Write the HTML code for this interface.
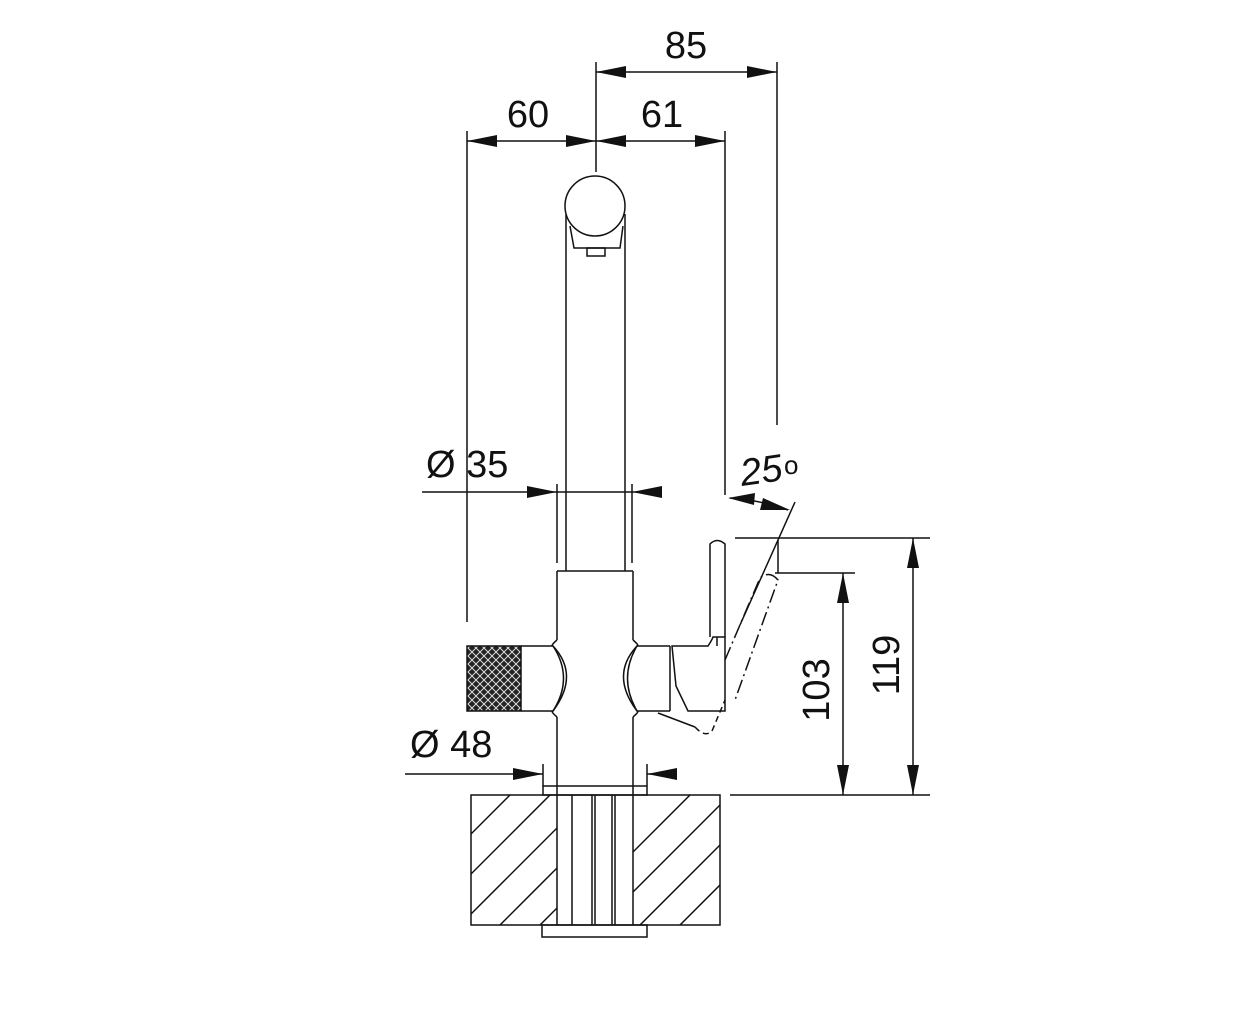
<!DOCTYPE html>
<html><head><meta charset="utf-8"><style>html,body{margin:0;padding:0;background:#fff}svg{display:block}</style></head>
<body>
<svg width="1252" height="1024" viewBox="0 0 1252 1024" xmlns="http://www.w3.org/2000/svg" font-family="Liberation Sans, sans-serif">
<defs>
<pattern id="knurl" width="8" height="8" patternUnits="userSpaceOnUse">
<rect width="8" height="8" fill="#222"/>
<path d="M0 4 L4 0 L8 4 L4 8 Z" fill="none" stroke="#ddd" stroke-width="1"/>
</pattern>
<clipPath id="cl"><rect x="471" y="795" width="86" height="130"/></clipPath>
<clipPath id="cr"><rect x="633" y="795" width="87" height="130"/></clipPath>
</defs>
<g stroke="#111" stroke-width="1.5" fill="none">
<line x1="596" y1="62" x2="596" y2="172"/>
<line x1="777" y1="62" x2="777" y2="425"/>
<line x1="467" y1="131" x2="467" y2="622"/>
<line x1="725" y1="131" x2="725" y2="495"/>
<line x1="596" y1="72" x2="777" y2="72"/>
<line x1="467" y1="141" x2="725" y2="141"/>
<circle cx="595" cy="206" r="30"/>
<path d="M566 214 L566 571 M625 214 L625 571"/>
<path d="M570 226 L574 248 L620 248 L623 226"/>
<rect x="587" y="248" width="18" height="8"/>
<line x1="557" y1="484" x2="557" y2="563"/>
<line x1="632" y1="484" x2="632" y2="563"/>
<line x1="422" y1="492" x2="662" y2="492"/>
<path d="M557 571 L633 571 M557 571 L557 640 M633 571 L633 640 M557 717 L557 795 M633 717 L633 795"/>
<rect x="467" y="646" width="54" height="65" fill="url(#knurl)" stroke="#111"/>
<path d="M521 646 L553 646 Q580 675 553 711 L521 711"/>
<path d="M553 646 Q574 678 553 711" />
<path d="M557 640 Q550 646 553 646 M557 717 Q550 711 553 711"/>
<path d="M670 646 L637 646 Q610 675 637 711 L670 711"/>
<path d="M637 646 Q618 678 637 711"/>
<path d="M633 640 Q640 646 637 646 M633 717 Q640 711 637 711"/>
<line x1="670" y1="646" x2="670" y2="711"/>
<path d="M672 646 L708 646 Q712 640 713 637 L725 637 L725 711 L688 711 L676 686 Z"/>
<path d="M710 637 L710 544 Q717 537 725 544 L725 637"/>
<line x1="717" y1="637" x2="717" y2="646"/>
<path d="M658 713 L695 727" />
<path d="M695 727 Q705 738 712 731 L725 700" stroke-dasharray="6 4"/>
<path d="M725 660 L760 578 Q770 570 778 580 L735 700" stroke-dasharray="14 4 2 4"/>
<line x1="795" y1="502" x2="740" y2="625"/>
<path d="M730 498 Q760 500 788 510"/>
<line x1="543" y1="764" x2="543" y2="786"/>
<line x1="647" y1="764" x2="647" y2="786"/>
<line x1="405" y1="774" x2="543" y2="774"/>
<line x1="647" y1="774" x2="675" y2="774"/>
<rect x="543" y="786" width="104" height="9"/>
<rect x="471" y="795" width="249" height="130"/>
<rect x="542" y="925" width="105" height="12"/>
<path d="M557 795 L557 925 M572 795 L572 925 M592 795 L592 925 M595 795 L595 925 M612 795 L612 925 M615 795 L615 925 M633 795 L633 925"/>
<g clip-path="url(#cl)">
<path d="M420 925 L550 795 M380 925 L510 795 M460 925 L590 795 M500 925 L630 795 M540 925 L670 795 M420 885 L510 795"/>
</g>
<g clip-path="url(#cr)">
<path d="M600 925 L730 795 M640 925 L770 795 M680 925 L810 795 M560 925 L690 795 M600 885 L690 795"/>
</g>
<line x1="735" y1="538" x2="930" y2="538"/>
<line x1="775" y1="573" x2="855" y2="573"/>
<line x1="730" y1="795" x2="930" y2="795"/>
<line x1="843" y1="573" x2="843" y2="795"/>
<line x1="913" y1="538" x2="913" y2="795"/>
<line x1="778" y1="540" x2="778" y2="573"/>
</g>
<g fill="#111">
<polygon points="596,72 626,66 626,78"/><polygon points="777,72 747,66 747,78"/>
<polygon points="596,141 566,135 566,147"/><polygon points="596,141 626,135 626,147"/><polygon points="467,141 497,135 497,147"/><polygon points="725,141 695,135 695,147"/>
<polygon points="557,492 527,486 527,498"/><polygon points="632,492 662,486 662,498"/>
<polygon points="543,774 513,768 513,780"/><polygon points="647,774 677,768 677,780"/>
<polygon points="843,573 837,603 849,603"/><polygon points="843,795 837,765 849,765"/>
<polygon points="913,538 907,568 919,568"/><polygon points="913,795 907,765 919,765"/>
<polygon points="728,498 755,493 754,505"/><polygon points="790,510 763,498 760,510"/>
</g>
<g font-size="38" fill="#111">
<text x="686" y="58" text-anchor="middle">85</text>
<text x="528" y="127" text-anchor="middle">60</text>
<text x="662" y="127" text-anchor="middle">61</text>
<text x="426" y="477">Ø 35</text>
<text x="410" y="757">Ø 48</text>
<text x="0" y="0" transform="translate(829,690) rotate(-90)" text-anchor="middle">103</text>
<text x="0" y="0" transform="translate(899,665) rotate(-90)" text-anchor="middle">119</text>
<text x="0" y="0" font-style="italic" transform="translate(742,486) rotate(-8)">25</text>
</g>
<text x="784" y="474" font-size="26" fill="#111">o</text>
</svg>
</body></html>
